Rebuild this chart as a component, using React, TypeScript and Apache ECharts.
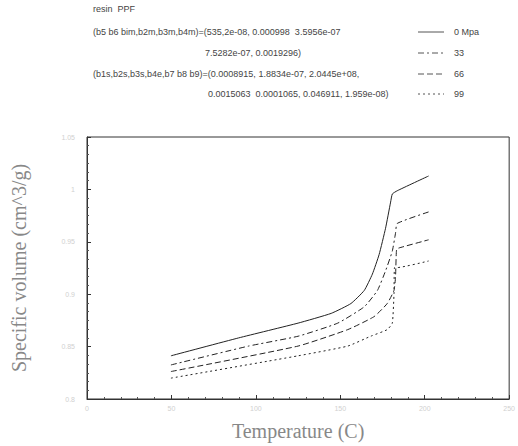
import React, { useEffect, useRef } from "react";
import * as echarts from "echarts";

const seriesNames = ["0 Mpa", "33", "66", "99"];

const curve0: [number, number][] = [
  [49.7, 0.8412], [89.8, 0.8583], [125.0, 0.8724], [144.6, 0.8817], [156.3, 0.8911],
  [164.2, 0.9036], [169.0, 0.9192], [173.0, 0.9379], [176.8, 0.9629], [179.8, 0.9879],
  [180.8, 0.9956], [183.7, 0.9987], [202.3, 1.0128],
];
const curve33: [number, number][] = [
  [49.7, 0.8325], [95.7, 0.8505], [125.0, 0.8599], [148.5, 0.8724], [164.2, 0.888],
  [172.0, 0.9036], [176.8, 0.9223], [180.8, 0.9411], [182.7, 0.9582], [183.7, 0.9675],
  [202.3, 0.9785],
];
const curve66: [number, number][] = [
  [49.7, 0.8262], [125.0, 0.8505], [154.4, 0.8662], [170.0, 0.8786], [177.8, 0.8911],
  [181.8, 0.9036], [182.7, 0.9161], [183.3, 0.9426], [184.7, 0.9441], [202.3, 0.9519],
];
const curve99: [number, number][] = [
  [49.7, 0.8199], [125.0, 0.8412], [154.4, 0.8505], [168.0, 0.8599], [177.8, 0.8662],
  [180.8, 0.8724], [181.8, 0.9004], [182.1, 0.9254], [183.7, 0.9254], [202.3, 0.9317],
];
const curves = [curve0, curve33, curve66, curve99];
const dashes: any[] = ["solid", [6, 3, 2, 3], [6, 3], [2, 3]];
const svgDashes: any[] = [null, [6, 3, 2, 3], [6, 3], [2, 3]];

const headerLines = [
  { text: "resin  PPF", x: 93, y: 4 },
  { text: "(b5 b6 bim,b2m,b3m,b4m)=(535,2e-08, 0.000998  3.5956e-07", x: 93, y: 27 },
  { text: "7.5282e-07, 0.0019296)", x: 205, y: 48 },
  { text: "(b1s,b2s,b3s,b4e,b7 b8 b9)=(0.0008915, 1.8834e-07, 2.0445e+08,", x: 93, y: 69 },
  { text: "0.0015063  0.0001065, 0.046911, 1.959e-08)", x: 208, y: 89 },
];
const legendRowsY = [32, 53, 74, 94];

export default function App() {
  const ref = useRef<HTMLDivElement>(null);
  useEffect(() => {
    const chart = echarts.init(ref.current!, null, { renderer: "svg" });
    const font = "Liberation Sans";
    const graphics: any[] = headerLines.map((h) => ({
      type: "text", left: h.x, top: h.y,
      style: { text: h.text, fontFamily: font, fontSize: 9, fill: "#444" },
    }));
    seriesNames.forEach((n, i) => {
      const y = legendRowsY[i];
      graphics.push({
        type: "line",
        shape: { x1: 418, y1: y, x2: 444, y2: y },
        style: { stroke: "#555", lineWidth: 1, lineDash: svgDashes[i] },
      });
      graphics.push({
        type: "text", x: 454, y: y,
        style: { text: n, fontFamily: font, fontSize: 9, fill: "#444", verticalAlign: "middle" },
      });
    });
    chart.setOption({
      animation: false,
      backgroundColor: "#fff",
      grid: {
        left: 87, top: 137, right: 5, bottom: 42, show: true,
        borderColor: "#333", borderWidth: 1, backgroundColor: "transparent",
      },
      xAxis: {
        type: "value", min: 0, max: 250, interval: 50,
        name: "Temperature (C)", nameLocation: "middle", nameGap: 22,
        nameTextStyle: { fontFamily: "Liberation Serif", fontSize: 20, color: "#888" },
        axisLine: { lineStyle: { color: "#333" } },
        axisTick: { inside: true, length: 4, lineStyle: { color: "#333" } },
        minorTick: { show: true, splitNumber: 5, length: 2, lineStyle: { color: "#555" } },
        axisLabel: { fontFamily: font, fontSize: 7, color: "#d0d0d0", margin: 6 },
        splitLine: { show: false },
      },
      yAxis: {
        type: "value", min: 0.8, max: 1.05, interval: 0.05,
        name: "Specific volume (cm^3/g)", nameLocation: "middle", nameGap: 58, nameRotate: 90,
        nameTextStyle: { fontFamily: "Liberation Serif", fontSize: 20, color: "#888" },
        axisLine: { lineStyle: { color: "#333" } },
        axisTick: { inside: true, length: 4, lineStyle: { color: "#333" } },
        minorTick: { show: true, splitNumber: 6, length: 2, lineStyle: { color: "#555" } },
        axisLabel: { fontFamily: font, fontSize: 7, color: "#d0d0d0", margin: 12 },
        splitLine: { show: false },
      },
      series: curves.map((c, i) => ({
        name: seriesNames[i], type: "line", data: c, symbol: "none", smooth: 0.15,
        lineStyle: { color: "#222", width: 1, type: dashes[i] },
        itemStyle: { color: "#222" },
      })),
      graphic: graphics,
    });
    return () => chart.dispose();
  }, []);
  return <div ref={ref} style={{ position: "fixed", left: 0, top: 0, width: 518, height: 446 }} />;
}
